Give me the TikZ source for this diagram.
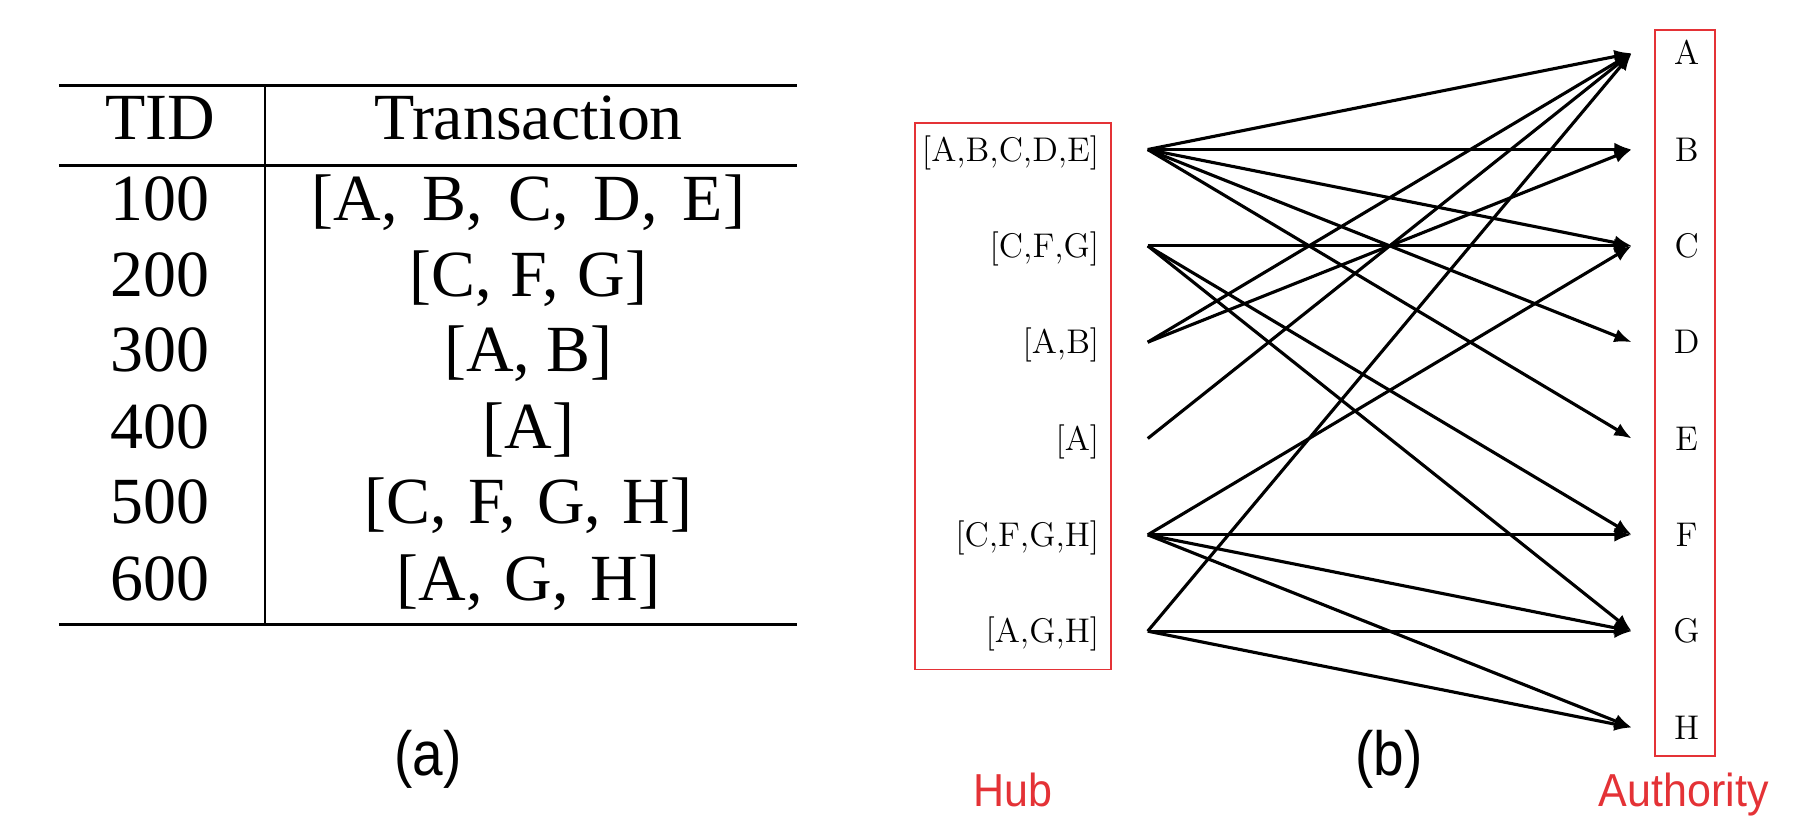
\documentclass[tikz,border=0pt]{standalone}
\usepackage{fontspec}
\newfontfamily\tabfont{Liberation Serif}
\newfontfamily\lblfont[FakeStretch=0.88]{Liberation Sans}
\newfontfamily\redfont[FakeStretch=0.93]{Liberation Sans}
\usetikzlibrary{arrows.meta}
\definecolor{boxred}{RGB}{228,50,54}
\begin{document}
\begin{tikzpicture}[x=0.5pt,y=-0.5pt,
  rule/.style={line width=1.25pt},
  tabtxt/.style={font=\tabfont\fontsize{28.5}{31}\selectfont, inner sep=0pt, anchor=base},
  hubtxt/.style={font=\fontsize{14.8}{17}\selectfont, inner sep=0pt, anchor=base east},
  authtxt/.style={font=\fontsize{14.8}{17}\selectfont, inner sep=0pt, anchor=base},
  captxt/.style={font=\lblfont\fontsize{27}{30}\selectfont, inner sep=0pt},
  redtxt/.style={font=\redfont\fontsize{20}{23}\selectfont, text=boxred, inner sep=0pt, anchor=base},
  redbox/.style={draw=boxred, line width=0.8pt},
  edge/.style={line width=1.35pt, -{Latex[length=7.5pt,width=6pt]}}]
\useasboundingbox (0,0) rectangle (1560,706);
% ---------- table (a)
\draw[rule] (51,74) -- (689,74);
\draw[rule] (51,143) -- (689,143);
\draw[rule] (51,540) -- (689,540);
\draw[line width=1.1pt] (229,74) -- (229,540);
\node[tabtxt] (hTID) at (138.5,121) {TID};
\node[tabtxt] (hTr) at (457,121) {Transaction};
\foreach \i/\y/\tid/\sp/\tr in {1/190.3/100/0.38/{[A, B, C, D, E]},2/256.6/200/0.29/{[C, F, G]},3/321.5/300/0.25/{[A, B]},4/387.8/400/0.25/{[A]},5/452.7/500/0.32/{[C, F, G, H]},6/519/600/0.33/{[A, G, H]}}{
  \node[tabtxt] (tid\i) at (138.5,\y) {\tid};
  \node[tabtxt] (tr\i) at (457,\y) {\spaceskip=\sp em\relax\tr};
}
\node[captxt] (capa) at (370,657) {(a)};
% ---------- graph (b)
\draw[redbox] (791,106) rectangle (961,579);
\draw[redbox] (1431.5,26) rectangle (1483,654);
\foreach \i/\y/\lab in {1/129.3/{[A,B,C,D,E]},2/212.6/{[C,F,G]},3/295.9/{[A,B]},4/379.2/{[A]},5/462.5/{[C,F,G,H]},6/545.8/{[A,G,H]}}{
  \node[hubtxt] (hl\i) at (951,\y+10) {\lab};
  \coordinate (h\i) at (992.5,\y);
}
\foreach \l/\y in {A/46,B/129.3,C/212.6,D/295.9,E/379.2,F/462.5,G/545.8,H/629.1}{
  \node[authtxt] (al\l) at (1458.5,\y+10) {\l};
  \coordinate (t\l) at (1411,\y);
}
\foreach \s/\t in {h1/tA,h1/tB,h1/tC,h1/tD,h1/tE,h2/tC,h2/tF,h2/tG,h3/tA,h3/tB,h4/tA,h5/tC,h5/tF,h5/tG,h5/tH,h6/tA,h6/tG,h6/tH}
  \draw[edge] (\s) -- (\t);
\node[captxt] (capb) at (1201,657) {(b)};
\node[redtxt] (hub) at (876,697) {Hub};
\node[redtxt] (auth) at (1456,697) {Authority};
\end{tikzpicture}
\end{document}
